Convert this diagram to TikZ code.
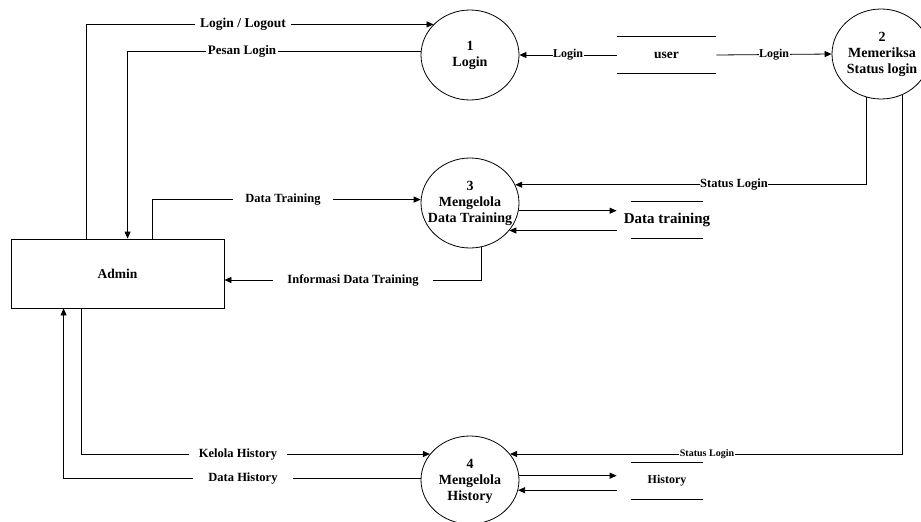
\documentclass[tikz,border=0pt]{standalone}
\usepackage{fontspec}
\setmainfont{Liberation Serif}
\usetikzlibrary{shapes.geometric,arrows.meta,calc}

\begin{document}
\begin{tikzpicture}[x=1pt,y=-1pt,
  line width=0.8pt,
  flow/.style={-{Triangle[length=7pt,width=6pt]}},
  proc/.style={ellipse,draw,minimum width=98pt,minimum height=90pt,inner sep=0pt},
  ptext/.style={align=center,inner sep=0pt,font=\bfseries\fontsize{14}{16}\selectfont},
  lbl/.style={fill=white,inner xsep=10pt,inner ysep=1pt,
    font=\bfseries\fontsize{12.5}{15}\selectfont},
  tight/.style={fill=white,inner xsep=0.5pt,inner ysep=1pt,
    font=\bfseries\fontsize{12}{14}\selectfont},
  store/.style={minimum width=100pt,minimum height=36pt,inner sep=0pt,
    font=\bfseries\fontsize{13.5}{16}\selectfont},
  entity/.style={draw,minimum width=213pt,minimum height=69pt,inner sep=0pt,
    font=\bfseries\fontsize{13.5}{16}\selectfont}]

\useasboundingbox (0,0) rectangle (921,522);

% processes: outline first, then the centred caption
\node[proc] (p1) at (470,55) {};
\node[proc] (p2) at (881,54) {};
\node[proc] (p3) at (470,203) {};
\node[proc,minimum height=88pt] (p4) at (470,480) {};
\node[ptext] (t1) at (p1.center) {1\\Login};
\node[ptext] (t2) at ([xshift=1pt]p2.center) {2\\Memeriksa\\Status login};
\node[ptext] (t3) at (p3.center) {3\\Mengelola\\Data Training};
\node[ptext] (t4) at ([yshift=-1pt]p4.center) {4\\Mengelola\\History};

% external entity
\node[entity] (admin) at (117.5,273.5) {Admin};

% data stores
\node[store,minimum width=99pt] (s1) at (666.5,55) {user};
\node[store,font=\bfseries\fontsize{15}{18}\selectfont] (s2) at (667,220) {Data training};
\node[store,font=\bfseries\fontsize{12}{14}\selectfont] (s3) at (667,481) {History};

\draw (s1.north west) -- (s1.north east) (s1.south west) -- (s1.south east);
\draw ([xshift=14pt]s2.north west) -- ([xshift=-14pt]s2.north east)
      ([xshift=14pt]s2.south west) -- ([xshift=-14pt]s2.south east);
\draw ([xshift=14pt]s3.north west) -- ([xshift=-14pt]s3.north east)
      ([xshift=14pt]s3.south west) -- ([xshift=-14pt]s3.south east);

% attachment points on the entity
\coordinate (a1) at ($(admin.north west)+(76,0)$);
\coordinate (a2) at ($(admin.north west)+(117,0)$);
\coordinate (a3) at ($(admin.north west)+(142,0)$);
\coordinate (a4) at ($(admin.south west)+(71,0)$);
\coordinate (a5) at ($(admin.south west)+(53,0)$);
\coordinate (a6) at ($(admin.east)+(0,6.5)$);

% flows around the user store
\draw[flow] (s1.west) -- node[tight] (l1) {Login} (p1.east);
\draw[flow] (s1.east) -- node[tight] (l2) {Login} (p2.west);

% flows between Admin and the processes
\draw[flow] (a1) |- (p1.140);
\draw[flow] (p1.176) -| (a2);
\draw[flow] (a3) |- (p3.176);
\draw[flow] (p3.284) |- (a6);
\draw[flow] (a4) |- (p4.147);
\draw[flow] (p4.178) -| (a5);

% status checks
\draw[flow] (p2.251) |- (p3.22);
\draw[flow] (p2.298) |- (p4.33);

% flows to and from the stores
\draw[flow] (p3.351) -- (p3.351 -| s2.west);
\draw[flow] (p3.325 -| s2.west) -- (p3.325);
\draw[flow] (p4.5) -- (p4.5 -| s3.west);
\draw[flow] (p4.348 -| s3.west) -- (p4.348);

% flow labels
\node[lbl,inner xsep=5pt,font=\bfseries\fontsize{13.5}{16}\selectfont] (l3) at (243,24.5) {Login / Logout};
\node[lbl,inner xsep=2pt,font=\bfseries\fontsize{13}{15}\selectfont] (l4) at (242,51.6) {Pesan Login};
\node[lbl,inner xsep=12pt] (l5) at (283,199.6) {Data Training};
\node[lbl,inner xsep=14pt] (l6) at (353,280) {Informasi Data Training};
\node[lbl] (l7) at (238,454.2) {Kelola History};
\node[lbl,inner xsep=15pt] (l8) at (243,478.3) {Data History};
\node[tight,font=\bfseries\fontsize{12.5}{15}\selectfont] (l9) at (734,185) {Status Login};
\node[tight,font=\bfseries\fontsize{10}{12}\selectfont] (l10) at (707,454.2) {Status Login};

\end{tikzpicture}
\end{document}
